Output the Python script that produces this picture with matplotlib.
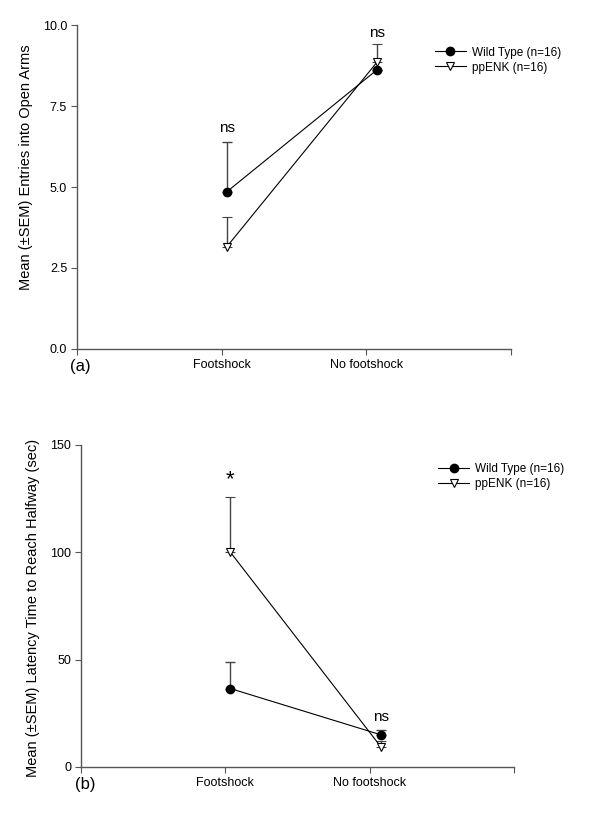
import matplotlib
matplotlib.use("Agg")
import matplotlib.pyplot as plt
from matplotlib.lines import Line2D

plt.rcParams['font.family'] = ['Liberation Sans', 'DejaVu Sans']

# =========================
# data
# =========================
conditions = ["Footshock", "No footshock"]
groups = ["Wild Type (n=16)", "ppENK (n=16)"]

# (a) entries into open arms
entries_wt = [4.85, 8.63]
entries_wt_sem = [1.55, 0.0]
entries_pp = [3.15, 8.87]
entries_pp_sem = [0.92, 0.56]
entries_sig = ["ns", "ns"]

# (b) latency to reach halfway
latency_wt = [36.5, 15.0]
latency_wt_sem = [12.5, 2.0]
latency_pp = [100.0, 9.5]
latency_pp_sem = [25.6, 2.5]
latency_sig = ["*", "ns"]

# x positions of the points (drawn slightly right of the ticks)
xpos = [1.035, 2.075]

MS = 6


def draw_panel(ax, wt, wt_sem, pp, pp_sem, sig, sig_y, ylim, yticks, yfmt,
               ylabel, ylab_pos, letter, leg_y):
    ax.errorbar(xpos, wt, yerr=[[0, 0], wt_sem], fmt='o-', color='black',
                ms=MS, lw=0.8, ecolor='#444444', elinewidth=1.0, capsize=3.3,
                capthick=1.0, zorder=3)
    ax.errorbar(xpos, pp, yerr=[[0, 0], pp_sem], fmt='v-', color='black',
                mfc='white', mec='black', mew=0.8, ms=MS, lw=0.8,
                ecolor='#444444', elinewidth=1.0, capsize=3.3, capthick=1.0,
                zorder=3)
    for x, s, y in zip(xpos, sig, sig_y):
        fs = 16 if s == "*" else 11
        ax.text(x, y, s, ha='center', va='bottom', fontsize=fs)

    ax.set_xlim(0, 3)
    ax.set_xticks([0, 1, 2, 3])
    ax.set_xticklabels(["", conditions[0], conditions[1], ""], fontsize=9)
    ax.set_ylim(*ylim)
    ax.set_yticks(yticks)
    ax.set_yticklabels([yfmt.format(v) for v in yticks], fontsize=9)
    ax.set_ylabel(ylabel, fontsize=10.5)
    ax.yaxis.set_label_coords(*ylab_pos)
    for side in ["top", "right"]:
        ax.spines[side].set_visible(False)
    for side in ["left", "bottom"]:
        ax.spines[side].set_color('#555555')
        ax.spines[side].set_linewidth(1.0)
    ax.tick_params(direction='out', length=4, color='#555555', pad=3)
    ax.text(-0.015, -0.055, letter, transform=ax.transAxes, fontsize=12,
            ha='left', va='center')

    handles = [
        Line2D([], [], color='black', lw=0.8, marker='o', ms=MS),
        Line2D([], [], color='black', lw=0.8, marker='v', ms=MS,
               mfc='white', mec='black', mew=0.8),
    ]
    ax.legend(handles, groups, loc='upper left', bbox_to_anchor=(0.8, leg_y),
              frameon=False, fontsize=8.5, handlelength=2.6,
              labelspacing=0.25, handletextpad=0.5)


fig = plt.figure(figsize=(6, 8.15), dpi=100)

ax1 = fig.add_axes([0.128, 0.572, 0.724, 0.397])
draw_panel(ax1, entries_wt, entries_wt_sem, entries_pp, entries_pp_sem,
           entries_sig, [6.6, 9.55], (0, 10), [0, 2.5, 5, 7.5, 10], "{:.1f}",
           "Mean (±SEM) Entries into Open Arms", (-0.1, 0.56),
           "(a)", 0.967)

ax2 = fig.add_axes([0.135, 0.059, 0.722, 0.395])
draw_panel(ax2, latency_wt, latency_wt_sem, latency_pp, latency_pp_sem,
           latency_sig, [129, 20], (0, 150), [0, 50, 100, 150], "{:.0f}",
           "Mean (±SEM) Latency Time to Reach Halfway (sec)",
           (-0.095, 0.495), "(b)", 0.978)

fig.savefig("out.png", dpi=100)
